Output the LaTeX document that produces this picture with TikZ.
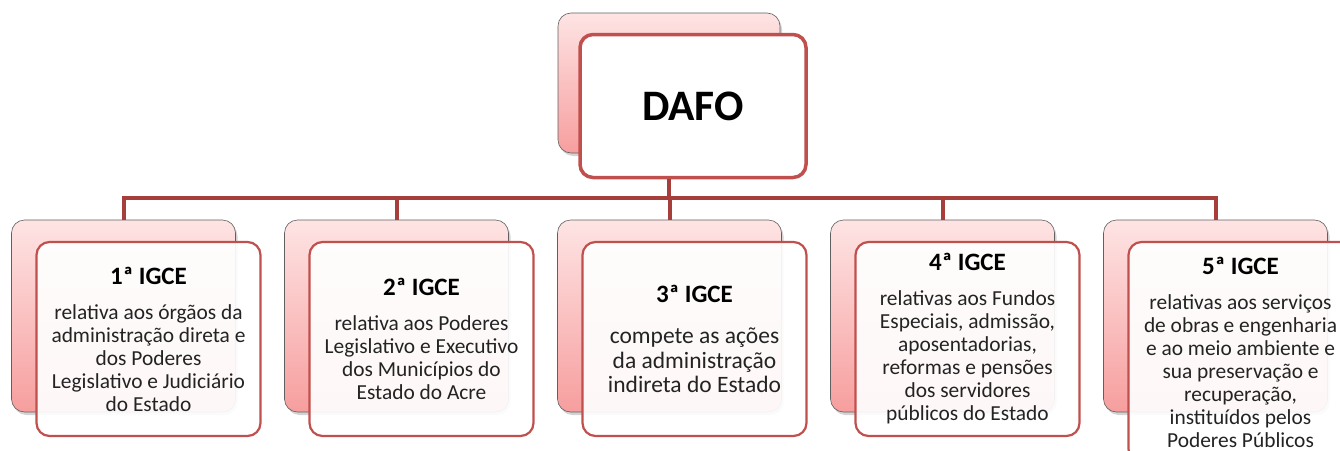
\documentclass[tikz,border=0pt]{standalone}
\usepackage{fontspec}
\setmainfont{Carlito}
\usetikzlibrary{positioning,shadows,calc}

\definecolor{boxred}{RGB}{192,80,77}
\definecolor{linkred}{RGB}{166,62,60}
\definecolor{pinktop}{RGB}{254,228,228}
\definecolor{pinkbot}{RGB}{247,158,158}
\definecolor{textgray}{RGB}{35,35,35}

\tikzstyle{back}=[rectangle, rounded corners=13pt, draw=gray!75!black, line width=0.6pt, top color=pinktop, bottom color=pinkbot, drop shadow={shadow xshift=2pt, shadow yshift=-3pt, opacity=0.35}, minimum width=224pt, minimum height=192pt, inner sep=0pt]
\tikzstyle{front}=[rectangle, rounded corners=13pt, draw=boxred, line width=2.2pt, fill=white, fill opacity=0.92, text opacity=1, minimum width=224pt, minimum height=194pt, inner sep=2pt, align=center, text=textgray, font=\fontsize{21.4}{23}\selectfont]
\tikzstyle{link}=[draw=linkred, line width=4pt]

\newcommand{\igce}[2][12pt]{{\fontsize{25}{28}\selectfont\bfseries\color{black}#2}\\[#1]}

\begin{document}
\begin{tikzpicture}[x=1pt, y=-1pt]

\useasboundingbox (0,0) rectangle (1340,450);
\clip (0,0) rectangle (1340,450);

\node[back, minimum width=222pt, minimum height=140pt] (dafoback) at (669,83) {};
\node[front, minimum width=226pt, minimum height=143pt, line width=3.5pt, fill opacity=1, text=black, font=\fontsize{43.5}{48}\selectfont\bfseries] (dafo) at ($(dafoback)+(24,23)$) {DAFO};

\node[back] (back1) at (123.5,316) {};
\node[back, right=48.4pt of back1] (back2) {};
\node[back, right=48.4pt of back2] (back3) {};
\node[back, right=48.4pt of back3] (back4) {};
\node[back, right=48.4pt of back4] (back5) {};

\node[front] (igce1) at ($(back1)+(25,23)$) {\igce{1ª IGCE}relativa aos órgãos da\\administração direta e\\dos Poderes\\Legislativo e Judiciário\\do Estado};
\node[front] (igce2) at ($(back2)+(25,23)$) {\igce{2ª IGCE}relativa aos Poderes\\Legislativo e Executivo\\dos Municípios do\\Estado do Acre};
\node[front, font=\fontsize{23.5}{24.5}\selectfont] (igce3) at ($(back3)+(25,23)$) {\igce[17pt]{3ª IGCE}compete as ações\\da administração\\indireta do Estado};
\node[front] (igce4) at ($(back4)+(25,23)$) {\igce{4ª IGCE}relativas aos Fundos\\Especiais, admissão,\\aposentadorias,\\reformas e pensões\\dos servidores\\públicos do Estado};
\node[front, minimum height=220pt] (igce5) at ($(back5)+(25,36)$) {\igce{5ª IGCE}relativas aos serviços\\de obras e engenharia\\e ao meio ambiente e\\sua preservação e\\recuperação,\\instituídos pelos\\Poderes Públicos};

\coordinate (bus) at (0,198);
\foreach \n in {1,...,5}
  \draw[link] (dafo.south -| dafoback) |- (bus -| back\n) -- (back\n.north);
\end{tikzpicture}
\end{document}
